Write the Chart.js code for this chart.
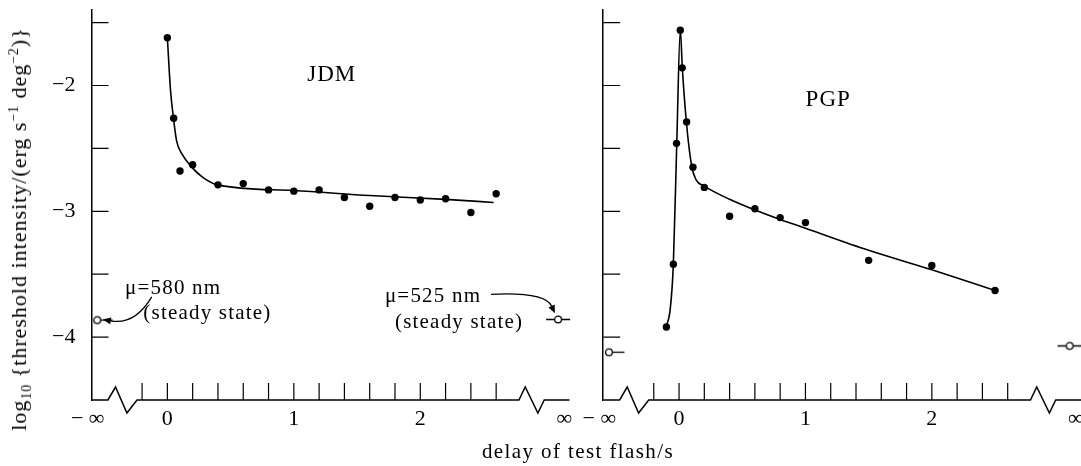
<!DOCTYPE html>
<html lang="en">
<head>
<meta charset="UTF-8">
<meta name="viewport" content="width=device-width, initial-scale=1.0">
<title>Threshold intensity against delay of test flash</title>
<script src="https://cdn.jsdelivr.net/npm/chart.js"></script>
<style>
  body { margin: 0; background: #fff; }
  #figure { position: relative; width: 1081px; height: 466px; overflow: hidden; font-family: 'Liberation Serif', serif; color: #000; }
  canvas { position: absolute; top: 0; }
  #jdmChart { left: 0; }
  #pgpChart { left: 575px; }
  .axis-title { position: absolute; white-space: nowrap; line-height: 1; }
  #yTitle { left: 19px; top: 229px; font-size: 22px; letter-spacing: 1px; transform: translate(-50%, -50%) rotate(-90deg); }
  #xTitle { left: 578px; top: 451px; font-size: 21px; letter-spacing: 1.4px; transform: translate(-50%, -50%); }
  sub, sup { font-size: 0.62em; line-height: 0; }
</style>
</head>
<body>
<div id="figure">
  <canvas id="jdmChart" width="580" height="466"></canvas>
  <canvas id="pgpChart" width="530" height="466"></canvas>
  <div class="axis-title" id="yTitle">log<sub>10</sub> {threshold intensity/(erg s<sup>−1</sup> deg<sup>−2</sup>)}</div>
  <div class="axis-title" id="xTitle">delay of test flash/s</div>
</div>

<script>
// JDM: delay of test flash (s) and log10 threshold
const jdmDelay = [0, 0.05, 0.1, 0.2, 0.4, 0.6, 0.8, 1.0, 1.2, 1.4, 1.6, 1.8, 2.0, 2.2, 2.4, 2.6];
const jdmThreshold = [-1.62, -2.26, -2.68, -2.63, -2.79, -2.78, -2.83, -2.84, -2.83, -2.89, -2.96, -2.89, -2.91, -2.90, -3.01, -2.86];
// hand-drawn curve through the JDM points
const jdmCurveDelay = [0, 0.025, 0.047, 0.073, 0.113, 0.18, 0.28, 0.4, 1.0, 1.6, 2.2, 2.58];
const jdmCurveThreshold = [-1.62, -2.04, -2.25, -2.44, -2.54, -2.635, -2.73, -2.79, -2.835, -2.875, -2.905, -2.93];
// steady state: 580 nm (at -inf) and 525 nm (at +inf)
const jdmSteady = [-3.865, -3.86];

// PGP
const pgpDelay = [-0.1, -0.045, -0.02, 0.01, 0.025, 0.06, 0.11, 0.2, 0.4, 0.6, 0.8, 1.0, 1.5, 2.0, 2.5];
const pgpThreshold = [-3.92, -3.42, -2.46, -1.56, -1.86, -2.29, -2.65, -2.81, -3.04, -2.98, -3.05, -3.09, -3.39, -3.43, -3.63];
const pgpCurveDelay = [-0.103, -0.07, -0.045, -0.018, 0.01, 0.026, 0.058, 0.1, 0.135, 0.2, 0.4, 0.6, 0.8, 1.0, 1.5, 2.0, 2.5];
const pgpCurveThreshold = [-3.92, -3.78, -3.42, -2.46, -1.56, -1.86, -2.29, -2.64, -2.75, -2.8, -2.905, -2.99, -3.065, -3.135, -3.31, -3.465, -3.63];
const pgpSteady = [-4.12, -4.07];

// tick positions and labels
const xTicks = [-0.2, 0, 0.2, 0.4, 0.6, 0.8, 1.0, 1.2, 1.4, 1.6, 1.8, 2.0, 2.2, 2.4, 2.6];
const xTickLabels = ['', '0', '', '', '', '', '1', '', '', '', '', '2', '', '', ''];
const yTicks = [-1.5, -2, -2.5, -3, -3.5, -4];
const yTickLabels = ['', '−2', '', '−3', '', '−4'];

const INK = '#000';
const FONT = "'Liberation Serif', serif";

// the time axis is broken at both ends; -inf and +inf sit beyond the breaks
const X_MIN = -0.6, X_MAX = 3.18;
const Y_MIN = -4.5, Y_MAX = -1.4;
const NEG_INF = -0.555, POS_INF = 3.09;
const NEG_INF_LABEL = -0.63, POS_INF_LABEL = 3.14;
const BREAK_LOW = [-0.47, -0.41, -0.32, -0.24];
const BREAK_HIGH = [2.78, 2.83, 2.93, 2.98];

function points(xs, ys) {
  return xs.map((x, i) => ({ x: x, y: ys[i] }));
}

// open circle with its little lead-in dashes
function steadyMarker(bothSides) {
  const c = document.createElement('canvas');
  c.width = 32; c.height = 11;
  const g = c.getContext('2d');
  g.strokeStyle = INK;
  g.lineWidth = 1.3;
  g.beginPath();
  if (bothSides) {
    g.moveTo(4, 5.5); g.lineTo(12, 5.5);
    g.moveTo(20, 5.5); g.lineTo(28, 5.5);
  } else {
    g.moveTo(20, 5.5); g.lineTo(31.5, 5.5);
  }
  g.stroke();
  g.beginPath();
  g.arc(16, 5.5, 3.4, 0, 2 * Math.PI);
  g.fillStyle = '#fff';
  g.fill();
  g.stroke();
  return c;
}
const markerNegInf = steadyMarker(false);
const markerPosInf = steadyMarker(true);

// zigzag time axis plus inward tick marks on both axes
const brokenAxes = {
  id: 'brokenAxes',
  afterDraw(chart) {
    const { ctx, chartArea: a, scales: { x, y } } = chart;
    const base = y.getPixelForValue(Y_MIN);
    ctx.save();
    ctx.strokeStyle = INK;
    ctx.lineWidth = 1.5;
    ctx.beginPath();
    ctx.moveTo(a.left, base);
    for (const br of [BREAK_LOW, BREAK_HIGH]) {
      ctx.lineTo(x.getPixelForValue(br[0]), base);
      ctx.lineTo(x.getPixelForValue(br[1]), base - 13);
      ctx.lineTo(x.getPixelForValue(br[2]), base + 13);
      ctx.lineTo(x.getPixelForValue(br[3]), base);
    }
    ctx.lineTo(a.right, base);
    ctx.stroke();

    ctx.lineWidth = 1.2;
    ctx.beginPath();
    xTicks.forEach(v => {
      const px = x.getPixelForValue(v);
      ctx.moveTo(px, base);
      ctx.lineTo(px, base - 17);
    });
    yTicks.forEach(v => {
      const py = y.getPixelForValue(v);
      ctx.moveTo(a.left, py);
      ctx.lineTo(a.left + 17, py);
    });
    ctx.stroke();
    ctx.restore();
  }
};

// panel name, steady-state notes and their arrows (placed in data units)
function notesPlugin(notes, arrows) {
  return {
    id: 'panelNotes',
    afterDraw(chart) {
      const { ctx, scales: { x, y } } = chart;
      ctx.save();
      ctx.fillStyle = INK;
      ctx.strokeStyle = INK;
      ctx.textBaseline = 'middle';
      for (const n of notes) {
        ctx.font = n.size + 'px ' + FONT;
        ctx.letterSpacing = n.spacing + 'px';
        ctx.textAlign = n.align;
        ctx.fillText(n.text, x.getPixelForValue(n.x), y.getPixelForValue(n.y));
      }
      ctx.lineWidth = 1.3;
      for (const arr of arrows) {
        const [p0, p1, p2] = arr.map(([vx, vy]) => [x.getPixelForValue(vx), y.getPixelForValue(vy)]);
        const ang = Math.atan2(p2[1] - p1[1], p2[0] - p1[0]);
        const bx = p2[0] - 8 * Math.cos(ang), by = p2[1] - 8 * Math.sin(ang);
        ctx.beginPath();
        ctx.moveTo(p0[0], p0[1]);
        ctx.quadraticCurveTo(p1[0], p1[1], bx, by);
        ctx.stroke();
        ctx.beginPath();
        ctx.moveTo(p2[0], p2[1]);
        ctx.lineTo(bx + 3.4 * Math.sin(ang), by - 3.4 * Math.cos(ang));
        ctx.lineTo(bx - 3.4 * Math.sin(ang), by + 3.4 * Math.cos(ang));
        ctx.closePath();
        ctx.fill();
      }
      ctx.restore();
    }
  };
}

function makeChart(id, cfg) {
  const xLabelValues = [NEG_INF_LABEL, ...xTicks, POS_INF_LABEL];
  const xLabelText = ['− ∞', ...xTickLabels, '∞'];
  return new Chart(document.getElementById(id), {
    type: 'scatter',
    data: {
      datasets: [
        {
          data: cfg.curve,
          showLine: true,
          cubicInterpolationMode: 'monotone',
          borderColor: INK,
          borderWidth: 1.6,
          pointRadius: 0
        },
        {
          data: cfg.measured,
          pointRadius: 3.7,
          pointBackgroundColor: INK,
          pointBorderWidth: 0
        },
        {
          data: cfg.steady,
          pointStyle: ctx => ctx.dataIndex === 0 ? markerNegInf : markerPosInf,
          pointRadius: 5,
          clip: false
        }
      ]
    },
    options: {
      responsive: false,
      animation: false,
      events: [],
      layout: { padding: { top: 10, right: cfg.padRight, bottom: 0, left: 0 } },
      plugins: { legend: { display: false }, tooltip: { enabled: false } },
      scales: {
        x: {
          type: 'linear',
          min: X_MIN,
          max: X_MAX,
          grid: { display: false },
          border: { display: false },
          afterBuildTicks: s => { s.ticks = xLabelValues.map(v => ({ value: v })); },
          afterFit: s => { s.height = 66; s.paddingLeft = 0; s.paddingRight = 0; },
          ticks: {
            autoSkip: false,
            maxRotation: 0,
            padding: -2,
            color: INK,
            font: { family: FONT, size: 22 },
            callback: (v, i) => xLabelText[i]
          }
        },
        y: {
          type: 'linear',
          min: Y_MIN,
          max: Y_MAX,
          grid: { display: false },
          border: { display: true, color: INK, width: 1.5 },
          afterBuildTicks: s => { s.ticks = yTicks.map(v => ({ value: v })); },
          afterFit: s => { s.width = cfg.axisWidth; s.paddingTop = 0; s.paddingBottom = 0; },
          ticks: {
            padding: 8,
            color: INK,
            font: { family: FONT, size: 22 },
            callback: (v, i) => cfg.yLabels ? yTickLabels[i] : ''
          }
        }
      }
    },
    plugins: [brokenAxes, notesPlugin(cfg.notes, cfg.arrows)]
  });
}

makeChart('jdmChart', {
  measured: points(jdmDelay, jdmThreshold),
  curve: points(jdmCurveDelay, jdmCurveThreshold),
  steady: points([NEG_INF, POS_INF], jdmSteady),
  yLabels: true,
  axisWidth: 91.5,
  padRight: 10.5,
  notes: [
    { text: 'JDM', x: 1.30, y: -1.92, size: 23, spacing: 1, align: 'center' },
    { text: 'μ=580 nm', x: -0.335, y: -3.61, size: 21, spacing: 1.2, align: 'left' },
    { text: '(steady state)', x: -0.19, y: -3.81, size: 21, spacing: 1.2, align: 'left' },
    { text: 'μ=525 nm', x: 1.72, y: -3.675, size: 21, spacing: 1.2, align: 'left' },
    { text: '(steady state)', x: 1.80, y: -3.88, size: 21, spacing: 1.2, align: 'left' }
  ],
  arrows: [
    [[-0.124, -3.68], [-0.256, -3.905], [-0.51, -3.86]],
    [[2.56, -3.66], [2.985, -3.64], [3.065, -3.81]]
  ]
});

// this canvas runs past the page edge so the axis reaches the right border
makeChart('pgpChart', {
  measured: points(pgpDelay, pgpThreshold),
  curve: points(pgpCurveDelay, pgpCurveThreshold),
  steady: points([NEG_INF, POS_INF], pgpSteady),
  yLabels: false,
  axisWidth: 28.2,
  padRight: 24,
  notes: [
    { text: 'PGP', x: 1.18, y: -2.115, size: 23, spacing: 1, align: 'center' }
  ],
  arrows: []
});
</script>
</body>
</html>
